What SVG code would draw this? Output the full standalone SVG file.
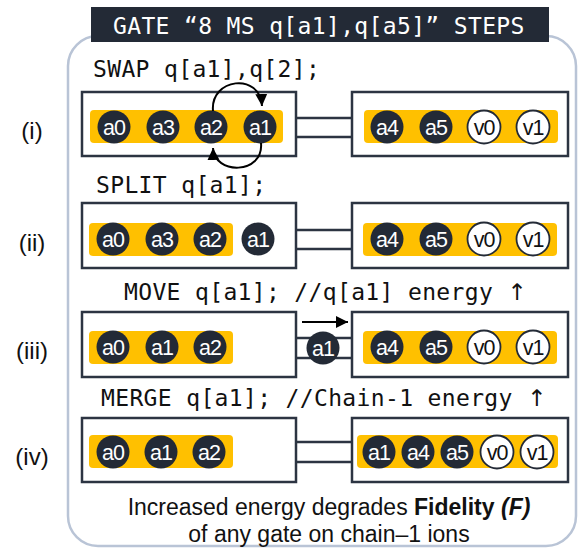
<svg xmlns="http://www.w3.org/2000/svg" width="579" height="549" viewBox="0 0 579 549">
<style>
.code{font-family:"DejaVu Sans Mono","Liberation Mono",monospace;font-size:23px;letter-spacing:0.35px;fill:#111}
.up{font-family:"DejaVu Sans",sans-serif}
.lbl{font-family:"Liberation Sans",Arial,sans-serif;font-size:23px;fill:#111;text-anchor:middle}
.rl{font-family:"Liberation Sans",Arial,sans-serif;font-size:24px;fill:#111;text-anchor:middle}
.box{fill:#fff;stroke:#2c3442;stroke-width:2.5}
.bar{fill:#ffc000}
.ion{fill:#232a36}
.vac{fill:#fff;stroke:#232a36;stroke-width:1.8}
.it{font-family:"Liberation Sans",Arial,sans-serif;font-size:21.5px;letter-spacing:-1px;fill:#fff;text-anchor:middle}
.vt{font-family:"Liberation Sans",Arial,sans-serif;font-size:21.5px;letter-spacing:-1px;fill:#111;text-anchor:middle}
.conn{stroke:#2c3442;stroke-width:2.5;fill:none}
.arr{stroke:#000;stroke-width:2;fill:none}
</style>
<defs>
<marker id="ah" markerUnits="userSpaceOnUse" markerWidth="14" markerHeight="14" viewBox="0 0 14 14" refX="12" refY="7" orient="auto">
<path d="M0,1 L12,7 L0,13 Z" fill="#000"/>
</marker>
</defs>
<rect x="68" y="36" width="508" height="510" rx="30" fill="none" stroke="#b9c4d6" stroke-width="2.5"/>
<g id="title">
<rect x="91" y="7" width="458" height="35" fill="#232a36"/>
<text x="113" y="34" class="code" style="fill:#fff">GATE “8 MS q[a1],q[a5]” STEPS</text>
</g>
<g id="step-texts">
<text x="93" y="77" class="code">SWAP q[a1],q[2];</text>
<text x="96" y="193" class="code">SPLIT q[a1];</text>
<text x="124" y="300" class="code">MOVE q[a1]; //q[a1] energy <tspan class="up">↑</tspan></text>
<text x="101" y="406" class="code">MERGE q[a1]; //Chain-1 energy <tspan class="up">↑</tspan></text>
</g>
<g id="row-labels">
<text x="32" y="139" class="rl">(i)</text>
<text x="32" y="251" class="rl">(ii)</text>
<text x="32" y="359" class="rl">(iii)</text>
<text x="32" y="465" class="rl">(iv)</text>
</g>
<g id="connectors">
<line x1="296" y1="118" x2="352" y2="118" class="conn"/>
<line x1="296" y1="137" x2="352" y2="137" class="conn"/>
<line x1="296" y1="230" x2="352" y2="230" class="conn"/>
<line x1="296" y1="249" x2="352" y2="249" class="conn"/>
<line x1="296" y1="338" x2="352" y2="338" class="conn"/>
<line x1="296" y1="358" x2="352" y2="358" class="conn"/>
<line x1="296" y1="442" x2="352" y2="442" class="conn"/>
<line x1="296" y1="462" x2="352" y2="462" class="conn"/>
</g>
<g id="row1-left">
<rect x="82" y="92" width="214" height="64" class="box"/>
<rect x="90" y="110" width="193" height="33" rx="4" class="bar"/>
<circle cx="114" cy="127" r="16.5" class="ion"/><text x="114" y="135" class="it">a0</text>
<circle cx="163" cy="127" r="16.5" class="ion"/><text x="163" y="135" class="it">a3</text>
<circle cx="211" cy="127" r="16.5" class="ion"/><text x="211" y="135" class="it">a2</text>
<circle cx="260" cy="127" r="16.5" class="ion"/><text x="260" y="135" class="it">a1</text>
</g>
<g id="swap-arrows">
<path d="M213 111 C210 78,260 72,262 106" class="arr" marker-end="url(#ah)"/>
<path d="M261 143 C264 175,214 175,213 148" class="arr" marker-end="url(#ah)"/>
</g>
<g id="row1-right">
<rect x="352" y="92" width="216" height="64" class="box"/>
<rect x="364" y="110" width="194" height="33" rx="4" class="bar"/>
<circle cx="387" cy="127" r="16.5" class="ion"/><text x="387" y="135" class="it">a4</text>
<circle cx="436" cy="127" r="16.5" class="ion"/><text x="436" y="135" class="it">a5</text>
<circle cx="484" cy="127" r="16.5" class="vac"/><text x="484" y="135" class="vt">v0</text>
<circle cx="533" cy="127" r="16.5" class="vac"/><text x="533" y="135" class="vt">v1</text>
</g>
<g id="row2-left">
<rect x="82" y="203" width="214" height="65" class="box"/>
<rect x="89" y="223" width="144" height="33" rx="4" class="bar"/>
<circle cx="113" cy="239" r="16.5" class="ion"/><text x="113" y="247" class="it">a0</text>
<circle cx="162" cy="239" r="16.5" class="ion"/><text x="162" y="247" class="it">a3</text>
<circle cx="210" cy="239" r="16.5" class="ion"/><text x="210" y="247" class="it">a2</text>
<circle cx="258" cy="239" r="16.5" class="ion"/><text x="258" y="247" class="it">a1</text>
</g>
<g id="row2-right">
<rect x="352" y="203" width="216" height="65" class="box"/>
<rect x="363" y="223" width="194" height="33" rx="4" class="bar"/>
<circle cx="387" cy="239" r="16.5" class="ion"/><text x="387" y="247" class="it">a4</text>
<circle cx="436" cy="239" r="16.5" class="ion"/><text x="436" y="247" class="it">a5</text>
<circle cx="484" cy="239" r="16.5" class="vac"/><text x="484" y="247" class="vt">v0</text>
<circle cx="533" cy="239" r="16.5" class="vac"/><text x="533" y="247" class="vt">v1</text>
</g>
<g id="row3-left">
<rect x="82" y="312" width="214" height="65" class="box"/>
<rect x="89" y="331" width="144" height="33" rx="4" class="bar"/>
<circle cx="113" cy="347" r="16.5" class="ion"/><text x="113" y="355" class="it">a0</text>
<circle cx="162" cy="347" r="16.5" class="ion"/><text x="162" y="355" class="it">a1</text>
<circle cx="210" cy="347" r="16.5" class="ion"/><text x="210" y="355" class="it">a2</text>
</g>
<g id="row3-moving">
<line x1="302" y1="322" x2="348" y2="322" class="arr" marker-end="url(#ah)"/>
<circle cx="323" cy="348" r="16.5" class="ion"/><text x="323" y="356" class="it">a1</text>
</g>
<g id="row3-right">
<rect x="352" y="312" width="216" height="65" class="box"/>
<rect x="363" y="331" width="194" height="33" rx="4" class="bar"/>
<circle cx="387" cy="347" r="16.5" class="ion"/><text x="387" y="355" class="it">a4</text>
<circle cx="436" cy="347" r="16.5" class="ion"/><text x="436" y="355" class="it">a5</text>
<circle cx="484" cy="347" r="16.5" class="vac"/><text x="484" y="355" class="vt">v0</text>
<circle cx="533" cy="347" r="16.5" class="vac"/><text x="533" y="355" class="vt">v1</text>
</g>
<g id="row4-left">
<rect x="82" y="418" width="214" height="64" class="box"/>
<rect x="89" y="435" width="144" height="33" rx="4" class="bar"/>
<circle cx="113" cy="452" r="16.5" class="ion"/><text x="113" y="460" class="it">a0</text>
<circle cx="161" cy="452" r="16.5" class="ion"/><text x="161" y="460" class="it">a1</text>
<circle cx="209" cy="452" r="16.5" class="ion"/><text x="209" y="460" class="it">a2</text>
</g>
<g id="row4-right">
<rect x="352" y="418" width="216" height="64" class="box"/>
<rect x="357" y="435" width="201" height="33" rx="4" class="bar"/>
<circle cx="379" cy="452" r="16.5" class="ion"/><text x="379" y="460" class="it">a1</text>
<circle cx="418" cy="452" r="16.5" class="ion"/><text x="418" y="460" class="it">a4</text>
<circle cx="457" cy="452" r="16.5" class="ion"/><text x="457" y="460" class="it">a5</text>
<circle cx="497" cy="452" r="16.5" class="vac"/><text x="497" y="460" class="vt">v0</text>
<circle cx="537" cy="452" r="16.5" class="vac"/><text x="537" y="460" class="vt">v1</text>
</g>
<g id="caption">
<text x="329" y="515" class="lbl">Increased energy degrades <tspan font-weight="bold">Fidelity <tspan font-style="italic">(F)</tspan></tspan></text>
<text x="329" y="542" class="lbl">of any gate on chain–1 ions</text>
</g>
</svg>
